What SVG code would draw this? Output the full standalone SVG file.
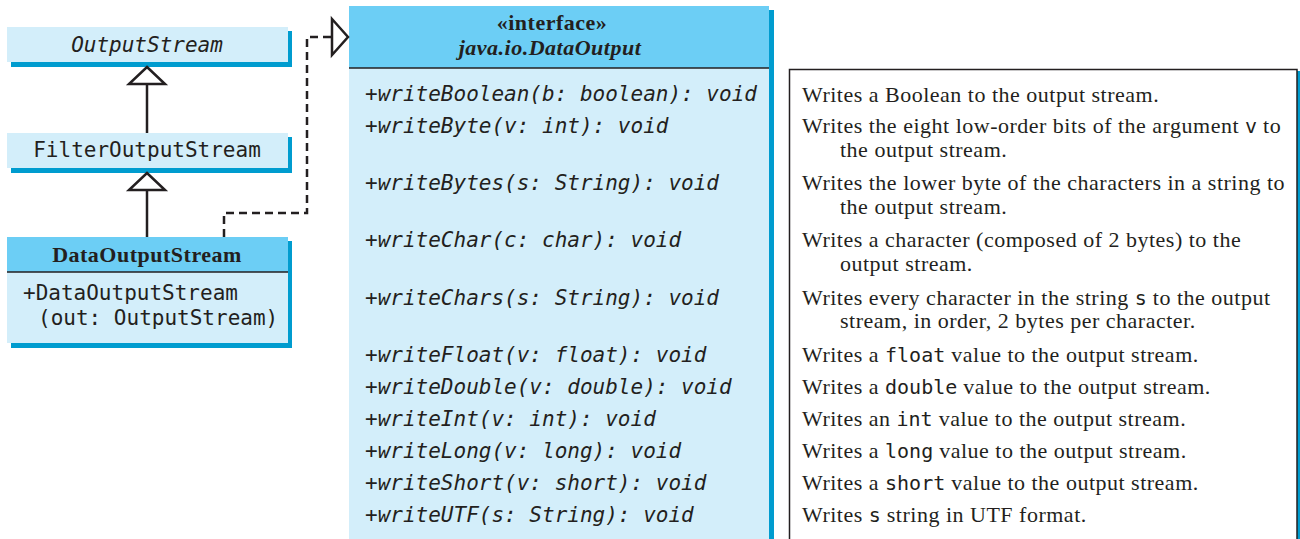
<svg xmlns="http://www.w3.org/2000/svg" width="1300" height="539" viewBox="0 0 1300 539">
<style>
.body{fill:#d3eefa}
.head{fill:#6ccef5}
.shadow{fill:#009ccf}
.sep{stroke:#231f20;stroke-width:1.5}
.mono{font-family:"DejaVu Sans Mono",monospace;font-size:21px;fill:#231f20}
.it{font-style:italic}
.ser{font-family:"Liberation Serif",serif;font-size:22px;letter-spacing:0.5px;fill:#231f20}
.bold{font-weight:bold}
.cm{font-family:"DejaVu Sans Mono",monospace;font-size:20px;letter-spacing:0}
.line{fill:none;stroke:#231f20;stroke-width:2.5}
.tri{fill:#fff;stroke:#231f20;stroke-width:2.5;stroke-linejoin:miter}
</style>
<rect width="1300" height="539" fill="#fff"/>

<g id="OutputStream">
<rect class="shadow" x="11" y="31" width="281" height="36"/>
<rect class="body" x="7" y="27" width="281" height="35"/>
<text class="mono it" x="147" y="52" text-anchor="middle">OutputStream</text>
</g>

<g id="FilterOutputStream">
<rect class="shadow" x="11" y="137" width="281" height="36"/>
<rect class="body" x="7" y="133" width="281" height="35"/>
<text class="mono" x="147" y="157" text-anchor="middle">FilterOutputStream</text>
</g>

<g id="DataOutputStream">
<rect class="shadow" x="11" y="241" width="281" height="107"/>
<rect class="body" x="7" y="237" width="281" height="106"/>
<rect class="head" x="7" y="237" width="281" height="35"/>
<line class="sep" x1="7" y1="272" x2="288" y2="272"/>
<text class="ser bold" x="147" y="262" text-anchor="middle" font-size="23" letter-spacing="0">DataOutputStream</text>
<text class="mono" x="23" y="300">+DataOutputStream</text>
<text class="mono" x="38" y="325">(out: OutputStream)</text>
</g>

<g id="DataOutput">
<rect class="shadow" x="353" y="10" width="421" height="540"/>
<rect class="body" x="349" y="6" width="420" height="540"/>
<rect class="head" x="349" y="6" width="420" height="62"/>
<line class="sep" x1="349" y1="68" x2="769" y2="68"/>
<text class="ser bold" x="552" y="30" text-anchor="middle" font-size="20" letter-spacing="0.3">«interface»</text>
<text class="ser bold it" x="550" y="55" text-anchor="middle" font-size="22" letter-spacing="0.8">java.io.DataOutput</text>
<g class="mono it">
<text x="365" y="101">+writeBoolean(b: boolean): void</text>
<text x="365" y="133">+writeByte(v: int): void</text>
<text x="365" y="190">+writeBytes(s: String): void</text>
<text x="365" y="247">+writeChar(c: char): void</text>
<text x="365" y="305">+writeChars(s: String): void</text>
<text x="365" y="362">+writeFloat(v: float): void</text>
<text x="365" y="394">+writeDouble(v: double): void</text>
<text x="365" y="426">+writeInt(v: int): void</text>
<text x="365" y="458">+writeLong(v: long): void</text>
<text x="365" y="490">+writeShort(v: short): void</text>
<text x="365" y="522">+writeUTF(s: String): void</text>
</g>
</g>

<g id="descriptions">
<rect x="1297" y="71" width="3" height="470" fill="#009ccf"/>
<rect x="789.5" y="69.5" width="507.5" height="480" fill="#fff" stroke="#231f20" stroke-width="1.5"/>
<g class="ser">
<text x="802" y="102">Writes a Boolean to the output stream.</text>
<text x="802" y="133">Writes the eight low-order bits of the argument <tspan class="cm">v</tspan> to</text>
<text x="840" y="157">the output stream.</text>
<text x="802" y="190">Writes the lower byte of the characters in a string to</text>
<text x="840" y="214">the output stream.</text>
<text x="802" y="247">Writes a character (composed of 2 bytes) to the</text>
<text x="840" y="271">output stream.</text>
<text x="802" y="305">Writes every character in the string <tspan class="cm">s</tspan> to the output</text>
<text x="840" y="328">stream, in order, 2 bytes per character.</text>
<text x="802" y="362">Writes a <tspan class="cm">float</tspan> value to the output stream.</text>
<text x="802" y="394">Writes a <tspan class="cm">double</tspan> value to the output stream.</text>
<text x="802" y="426">Writes an <tspan class="cm">int</tspan> value to the output stream.</text>
<text x="802" y="458">Writes a <tspan class="cm">long</tspan> value to the output stream.</text>
<text x="802" y="490">Writes a <tspan class="cm">short</tspan> value to the output stream.</text>
<text x="802" y="522">Writes <tspan class="cm">s</tspan> string in UTF format.</text>
</g>
</g>

<g id="connectors">
<line class="line" x1="147" y1="84" x2="147" y2="133"/>
<polygon class="tri" points="147,67 165,84 129,84"/>
<line class="line" x1="147" y1="190" x2="147" y2="237"/>
<polygon class="tri" points="147,173 165,190 129,190"/>
<polyline class="line" stroke-dasharray="8,5" points="224,237 224,213 307,213 307,37 332,37"/>
<polygon class="tri" points="332,19 348,37 332,55"/>
</g>
</svg>
